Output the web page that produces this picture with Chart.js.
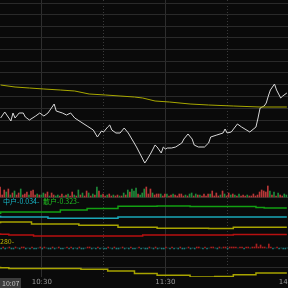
<!DOCTYPE html>
<html>
<head>
<meta charset="utf-8">
<script src="https://cdn.jsdelivr.net/npm/chart.js@4.4.1/dist/chart.umd.min.js"></script>
<style>
    html, body { margin: 0; padding: 0; background: #0a0a0a; overflow: hidden; }
    #wrap { width: 300px; height: 288px; }
</style>
</head>
<body>
<div id="wrap"><canvas id="minuteChart" width="300" height="288"></canvas></div>
<script>
// trading minutes since 9:30 (11:30 = 120, 13:00 continues at 120)
const priceTimes = [40, 42, 45, 46, 47, 49, 51, 52, 54, 57, 59, 61, 63, 66, 67, 70, 72, 74, 76, 79,
    82, 85, 87, 89, 90, 92, 93, 94, 96, 98, 100, 102, 104, 106, 108, 110, 111, 113, 114, 115,
    116, 118, 119, 120, 121, 123, 125, 128, 129, 131, 133, 134, 136, 139, 141, 142, 145, 148, 149, 150,
    152, 155, 157, 161, 164, 165, 166, 168, 169, 170, 171, 173, 174, 176, 177, 179];
const priceValues = [11.82, 11.88, 11.79, 11.87, 11.82, 11.87, 11.87, 11.83, 11.80, 11.84, 11.87, 11.84, 11.87, 11.96, 11.89, 11.87, 11.85, 11.87, 11.82, 11.78,
    11.74, 11.70, 11.63, 11.69, 11.68, 11.73, 11.75, 11.70, 11.67, 11.67, 11.72, 11.67, 11.60, 11.53, 11.45, 11.37, 11.40, 11.47, 11.51, 11.55,
    11.53, 11.47, 11.53, 11.51, 11.52, 11.52, 11.53, 11.57, 11.61, 11.66, 11.61, 11.55, 11.53, 11.53, 11.57, 11.63, 11.65, 11.67, 11.71, 11.67,
    11.68, 11.76, 11.73, 11.68, 11.73, 11.82, 11.92, 11.94, 11.97, 12.04, 12.10, 12.16, 12.10, 12.02, 12.04, 12.07];

const avgTimes = [40, 47, 54, 61, 69, 76, 83, 91, 98, 105, 109, 115, 122, 132, 141, 153, 166, 179];
const avgValues = [12.15, 12.13, 12.12, 12.11, 12.10, 12.09, 12.06, 12.05, 12.04, 12.03, 12.02, 11.99, 11.98, 11.96, 11.95, 11.94, 11.93, 11.93];

// one bar per minute from 40 to 179, negative = down tick (green)
const volumeStart = 40;
const volumes = [10, 2, 7, -5, 8, -2, 4, -6, 2, 4, -8, 2, 3, 5, -2, 6, 7, 2, -3, 2,
    -2, -4, 3, 5, -1, 4, 2, -1, -2, 1, 3, -1, 2, -3, 1, 5, -2, 1, -7, 2,
    -4, 1, 6, -4, 1, -3, 2, -10, 6, -2, 3, 1, -2, 3, 1, -2, 1, 2, -1, 1,
    -4, 2, -7, 5, -8, -6, -9, 3, -2, -4, -8, 10, 3, 8, -4, 2, 3, 3, -3, 1,
    3, -3, 1, 2, -3, 2, 1, 3, 3, 1, -2, 1, -3, -4, 1, -3, 2, -2, 1, 3,
    1, 3, -3, 6, 1, 4, 1, -2, 6, -3, 1, 4, -2, 3, -2, 1, -3, 1, 2, 1,
    -2, 1, 1, 3, 1, 2, 5, 7, 6, 5, 11, -6, 2, -5, 1, -4, 2, 1, -3, -2];

const flowValues = [-1, 1, -1, 0, 1, -1, -1, 1, 0, -1, 1, 1, -1, 0, -1, 1, -1, -1, 0, 1,
    -1, 1, 0, -1, -1, 1, -1, 0, 1, -1, -1, 0, 1, -1, 1, -1, 0, -1, 1, -1,
    -1, 0, 1, 1, -1, 0, -1, 1, -1, 0, -1, -1, 1, 0, -1, 1, -1, -1, 0, 1,
    -1, 0, -1, 1, -1, -1, 0, 1, -1, 0, -1, -1, 1, 0, -1, 1, -1, 0, -1, -1,
    1, 0, -1, 1, -1, 0, -1, 1, -1, -1, 0, 1, -1, 0, -1, 1, 1, 0, -1, 1,
    -1, 0, 1, 1, 0, -1, 1, 0, 1, 1, -1, 1, 1, 1, 1, 0, 1, 1, -1, 1,
    1, 0, 1, 1, 4, 1, 3, 1, 1, 0, 4, 1, -1, 0, 1, -1, 0, -1, -1, 0];

const greenTimes = [40, 69, 82, 97, 116, 132, 164, 168, 179];
const greenValues = [2.6, 2.8, 3.0, 3.15, 3.37, 3.4, 3.35, 3.25, 3.2];
const cyanTimes = [40, 63, 97, 120, 179];
const cyanValues = [2.43, 2.3, 2.17, 2.3, 2.3];
const yellowTimes = [40, 55, 78, 97, 116, 141, 153, 165, 179];
const yellowValues = [1.67, 1.8, 1.6, 1.47, 1.27, 1.17, 1.15, 1.27, 1.27];
const redTimes = [40, 44, 56, 109, 153, 166, 179];
const redValues = [0.67, 0.57, 0.5, 0.4, 0.5, 0.55, 0.55];
const lowTimes = [40, 44, 79, 92, 105, 116, 132, 144, 153, 164, 170, 179];
const lowValues = [1.33, 1.23, 1.15, 1.07, 0.9, 0.65, 0.47, 0.3, 0.35, 0.53, 0.7, 0.7];

const timeTicks = [60, 120, 180];
const halfTicks = [90, 150];
const gridRows = [3, 14.5, 26, 37.5, 49, 61, 72.5, 84, 96, 108, 120, 131.5, 143, 154.5, 165.5, 177, 197, 256.5, 267];

function pairs(times, values) {
    return times.map((t, i) => ({ x: t, y: values[i] }));
}

function minuteToClock(m) {
    const total = m <= 120 ? 9 * 60 + 30 + m : 13 * 60 + (m - 120);
    const h = Math.floor(total / 60);
    const mm = total % 60;
    return h + ':' + String(mm).padStart(2, '0');
}

const xMin = 39.7;
const xMax = 39.7 + 300 / 2.067;

const labelPlugin = {
    id: 'labels',
    afterDraw(chart) {
        const ctx = chart.ctx;
        ctx.save();
        ctx.font = '7px "Noto Sans CJK SC", "DejaVu Sans", sans-serif';
        ctx.textBaseline = 'middle';
        ctx.fillStyle = '#18b8c8';
        ctx.fillText('中户-0.034-', 3, 201.5);
        ctx.fillStyle = '#20c020';
        ctx.fillText('散户-0.323-', 43, 201.5);
        ctx.fillStyle = '#b8b000';
        ctx.fillText('280-', 0, 241);
        // crosshair time box
        ctx.fillStyle = '#3c3c3c';
        ctx.fillRect(0, 278, 21, 10);
        ctx.fillStyle = '#c8c8c8';
        ctx.fillText('10:07', 2, 283.5);
        ctx.restore();
    }
};

const ctx = document.getElementById('minuteChart').getContext('2d');

new Chart(ctx, {
    type: 'line',
    data: {
        datasets: [
            {
                data: pairs(avgTimes, avgValues),
                yAxisID: 'yPrice',
                borderColor: '#a8a800',
                borderWidth: 1,
                pointRadius: 0
            },
            {
                data: pairs(priceTimes, priceValues),
                yAxisID: 'yPrice',
                borderColor: '#d8d8d8',
                borderWidth: 1,
                pointRadius: 0
            },
            {
                type: 'bar',
                data: volumes.map((v, i) => ({ x: volumeStart + i, y: Math.abs(v) })),
                yAxisID: 'yVol',
                backgroundColor: volumes.map(v => v >= 0 ? '#b83838' : '#1f8a3a'),
                barThickness: 1
            },
            {
                type: 'bar',
                data: flowValues.map((v, i) => ({ x: volumeStart + i, y: v })),
                yAxisID: 'yFlow',
                backgroundColor: flowValues.map(v => v > 0 ? '#a82020' : '#207878'),
                barThickness: 1
            },
            {
                data: pairs(greenTimes, greenValues),
                yAxisID: 'yInd',
                stepped: 'after',
                borderColor: '#12a012',
                borderWidth: 1.5,
                pointRadius: 0
            },
            {
                data: pairs(cyanTimes, cyanValues),
                yAxisID: 'yInd',
                stepped: 'after',
                borderColor: '#1aa8b8',
                borderWidth: 1.5,
                pointRadius: 0
            },
            {
                data: pairs(yellowTimes, yellowValues),
                yAxisID: 'yInd',
                stepped: 'after',
                borderColor: '#a8a400',
                borderWidth: 1.5,
                pointRadius: 0
            },
            {
                data: pairs(redTimes, redValues),
                yAxisID: 'yInd',
                stepped: 'after',
                borderColor: '#b81010',
                borderWidth: 1.5,
                pointRadius: 0
            },
            {
                data: pairs(lowTimes, lowValues),
                yAxisID: 'yLow',
                stepped: 'after',
                borderColor: '#a8a400',
                borderWidth: 1.5,
                pointRadius: 0
            }
        ]
    },
    options: {
        responsive: false,
        animation: false,
        layout: { padding: 0 },
        plugins: {
            legend: { display: false },
            tooltip: { enabled: false }
        },
        scales: {
            x: {
                type: 'linear',
                offset: false,
                min: xMin,
                max: xMax,
                afterBuildTicks: scale => { scale.ticks = timeTicks.map(v => ({ value: v })); },
                afterFit: scale => { scale.height = 11; },
                ticks: {
                    color: '#9a9a9a',
                    font: { size: 7, family: 'DejaVu Sans' },
                    padding: 1,
                    maxRotation: 0,
                    autoSkip: false,
                    callback: v => minuteToClock(v)
                },
                grid: { color: '#2e2e2e', drawTicks: false, offset: false },
                border: { display: false }
            },
            xHalf: {
                type: 'linear',
                position: 'bottom',
                offset: false,
                min: xMin,
                max: xMax,
                afterBuildTicks: scale => { scale.ticks = halfTicks.map(v => ({ value: v })); },
                afterFit: scale => { scale.height = 0; },
                ticks: { display: false },
                grid: { color: '#3a3a3a', drawTicks: false, offset: false },
                border: { display: false, dash: [1, 2] }
            },
            yGrid: {
                type: 'linear',
                position: 'left',
                min: 0,
                max: 277,
                reverse: true,
                afterBuildTicks: scale => { scale.ticks = gridRows.map(v => ({ value: v })); },
                afterFit: scale => { scale.width = 0; },
                ticks: { display: false },
                grid: { color: '#2a2a2a', drawTicks: false },
                border: { display: false }
            },
            yPrice: { display: false, min: 10.23, max: 13.00 },
            yVol: { display: false, min: -80, max: 197 },
            yFlow: { display: false, min: -29, max: 248 },
            yInd: { display: false, min: -3.7, max: 24.0 },
            yLow: { display: false, min: 0.3, max: 28.0 }
        }
    },
    plugins: [labelPlugin]
});
</script>
</body>
</html>
